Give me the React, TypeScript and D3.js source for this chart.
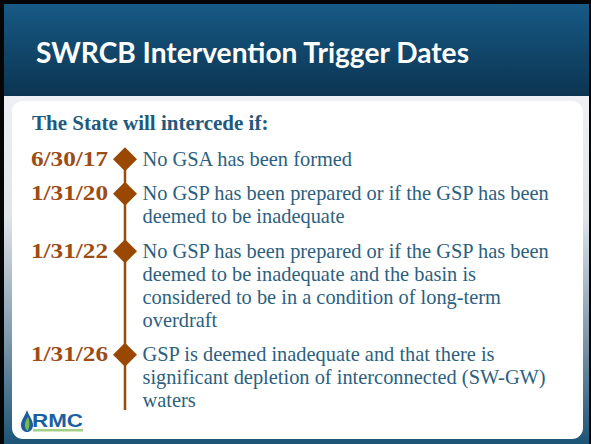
import React from "react";
import * as d3 from "d3";

const title = "SWRCB Intervention Trigger Dates";
const heading = "The State will intercede if:";
const dates = ["6/30/17", "1/31/20", "1/31/22", "1/31/26"];
const descriptions: string[][] = [
  ["No GSA has been formed"],
  ["No GSP has been prepared or if the GSP has been", "deemed to be inadequate"],
  [
    "No GSP has been prepared or if the GSP has been",
    "deemed to be inadequate and the basin is",
    "considered to be in a condition of long-term",
    "overdraft",
  ],
  [
    "GSP is deemed inadequate and that there is",
    "significant depletion of interconnected (SW-GW)",
    "waters",
  ],
];

const W = 591;
const H = 444;

export default function App() {
  const firstBase = 165.7;
  const lineH = 23;
  const gap = 34.5;
  const starts: number[] = [];
  let y = firstBase;
  descriptions.forEach((lines) => {
    starts.push(y);
    y += (lines.length - 1) * lineH + gap;
  });

  const xLine = 125;
  const diamond = (cx: number, cy: number, r: number) => {
    const p = d3.path();
    p.moveTo(cx, cy - r);
    p.lineTo(cx + r, cy);
    p.lineTo(cx, cy + r);
    p.lineTo(cx - r, cy);
    p.closePath();
    return p.toString();
  };

  const drop = (() => {
    const p = d3.path();
    p.moveTo(27, 410);
    p.bezierCurveTo(25, 416, 21, 420, 21, 425);
    p.bezierCurveTo(21, 429.5, 24, 432, 27, 432);
    p.bezierCurveTo(30, 432, 33, 429.5, 33, 425);
    p.bezierCurveTo(33, 420, 29, 416, 27, 410);
    p.closePath();
    return p.toString();
  })();

  const leaf = (() => {
    const p = d3.path();
    p.moveTo(27.5, 431);
    p.bezierCurveTo(24, 428, 24, 422, 28, 417);
    p.bezierCurveTo(30, 421, 30, 427, 27.5, 431);
    p.closePath();
    return p.toString();
  })();

  return (
    <div style={{ position: "fixed", left: 0, top: 0, width: W, height: H }}>
      <svg width={W} height={H} viewBox={`0 0 ${W} ${H}`} style={{ display: "block" }}>
        <defs>
          <linearGradient id="hdr" x1="0" y1="0" x2="0" y2="1">
            <stop offset="0" stopColor="#175a85" />
            <stop offset="1" stopColor="#0b3451" />
          </linearGradient>
          <linearGradient id="body" x1="0" y1="0" x2="0" y2="1">
            <stop offset="0" stopColor="#eef0f3" />
            <stop offset="0.35" stopColor="#dfe3e8" />
            <stop offset="0.7" stopColor="#7d97ab" />
            <stop offset="1" stopColor="#1c5477" />
          </linearGradient>
        </defs>
        <rect x={0} y={0} width={W} height={H} fill="#050505" />
        <rect x={4} y={96} width={585} height={H - 96} fill="url(#body)" />
        <rect x={4} y={4} width={585} height={92} fill="url(#hdr)" />
        <rect x={12} y={101} width={571} height={338} rx={11} fill="#ffffff" />

        <text
          x={36}
          y={63}
          fill="#ffffff"
          fontFamily="Lato, 'Open Sans', sans-serif"
          fontWeight={700}
          fontSize={28.5}
          textLength={433}
          lengthAdjust="spacingAndGlyphs"
        >
          {title}
        </text>

        <text
          x={32}
          y={130}
          fill="#1f5a7e"
          fontFamily="'Liberation Serif', serif"
          fontWeight={700}
          fontSize={21}
        >
          {heading}
        </text>

        <line
          x1={xLine}
          x2={xLine}
          y1={starts[0] - 6.5}
          y2={410}
          stroke="#9a4a0c"
          strokeWidth={2.5}
        />

        {dates.map((d, i) => (
          <g key={d}>
            <path d={diamond(xLine, starts[i] - 6.5, 12)} fill="#9a4800" />
            <text
              x={31}
              y={starts[i]}
              fill="#9c4c14"
              fontFamily="'Liberation Serif', serif"
              fontWeight={700}
              fontSize={21.5}
              textLength={77}
              lengthAdjust="spacingAndGlyphs"
            >
              {d}
            </text>
            {descriptions[i].map((line, j) => (
              <text
                key={j}
                x={142.5}
                y={starts[i] + j * lineH}
                fill="#2c5f80"
                fontFamily="'Liberation Serif', serif"
                fontSize={20.4}
              >
                {line}
              </text>
            ))}
          </g>
        ))}

        <g>
          <path d={drop} fill="#1b5d9e" />
          <path d={leaf} fill="#7ab648" />
          <text
            x={32}
            y={427}
            fill="#1b5fa3"
            fontFamily="'Liberation Sans', Arial, sans-serif"
            fontWeight={700}
            fontSize={19}
            textLength={51}
            lengthAdjust="spacingAndGlyphs"
          >
            RMC
          </text>
          <rect x={33} y={429} width={50} height={2.5} fill="#8cc36a" opacity={0.8} />
        </g>
      </svg>
    </div>
  );
}
